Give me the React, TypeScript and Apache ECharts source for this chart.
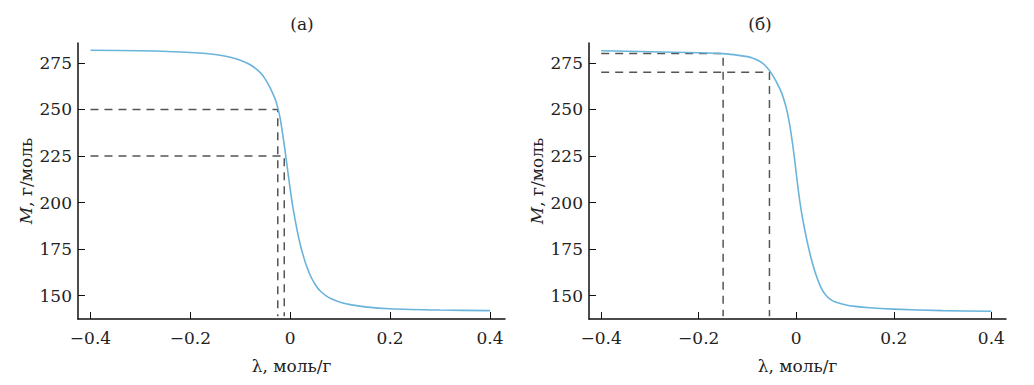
import React, { useEffect, useRef } from "react";
import * as echarts from "echarts";

// λ, моль/г  and  M, г/моль  — panel (а)
const lambdaA = [-0.4, -0.3, -0.2, -0.15, -0.12, -0.1, -0.08, -0.06, -0.05, -0.04, -0.03, -0.025, -0.02, -0.015, -0.01, -0.005, 0, 0.005, 0.01, 0.015, 0.02, 0.025, 0.03, 0.04, 0.05, 0.06, 0.07, 0.08, 0.1, 0.12, 0.15, 0.2, 0.3, 0.4];
const massA = [281.8, 281.5, 280.6, 279.5, 278.0, 276.5, 274.0, 269.8, 266.3, 261.5, 255.5, 251.0, 245.0, 236.5, 227.0, 217.0, 207.0, 198.0, 190.5, 183.5, 177.5, 172.5, 168.0, 161.0, 156.0, 152.5, 150.3, 148.6, 146.5, 145.2, 144.0, 143.0, 142.3, 142.0];

// panel (б)
const lambdaB = [-0.4, -0.3, -0.2, -0.15, -0.1, -0.09, -0.08, -0.07, -0.06, -0.05, -0.04, -0.03, -0.025, -0.02, -0.015, -0.01, -0.005, 0, 0.005, 0.01, 0.015, 0.02, 0.025, 0.03, 0.04, 0.05, 0.06, 0.07, 0.08, 0.1, 0.12, 0.15, 0.2, 0.3, 0.4];
const massB = [281.5, 281.0, 280.5, 280.0, 278.4, 277.7, 276.6, 275.0, 272.5, 269.0, 264.4, 258.9, 255.0, 250.3, 244.0, 236.0, 226.5, 215.5, 205.0, 196.0, 188.5, 182.0, 176.0, 170.5, 161.5, 154.8, 150.5, 148.0, 146.6, 145.2, 144.3, 143.5, 142.8, 142.0, 141.7];

// guide (dashed) levels: [lambda at curve, M]
const guidesA: [number, number][] = [[-0.025, 250], [-0.012, 225]];
const guidesB: [number, number][] = [[-0.15, 280], [-0.055, 270]];

const xTicks = [-0.4, -0.2, 0, 0.2, 0.4];
const yTicks = [150, 175, 200, 225, 250, 275];
const titles = ["(а)", "(б)"];

const X_MIN = -0.425;
const X_MAX = 0.43;
const Y_MIN = 137.5;
const Y_MAX = 285.7;

const FONT = "DejaVu Serif";
const FS = 17;

export default function App() {
  const ref = useRef<HTMLDivElement>(null);
  useEffect(() => {
    if (!ref.current) return;
    const chart = echarts.init(ref.current, undefined, { renderer: "svg" });
    const grids = [
      { left: 78, top: 43, width: 427, height: 276 },
      { left: 589, top: 43, width: 417, height: 276 },
    ];
    const mkX = (gi: number) => ({
      type: "value",
      gridIndex: gi,
      min: X_MIN,
      max: X_MAX,
      name: "λ, моль/г",
      nameLocation: "middle",
      nameGap: 38,
      nameTextStyle: { fontFamily: FONT, fontSize: FS, color: "#222" },
      axisLine: { show: true, onZero: false, lineStyle: { color: "#111", width: 1.5 } },
      axisTick: { show: true, inside: true, length: 7, customValues: xTicks, lineStyle: { color: "#111", width: 1 } },
      axisLabel: {
        customValues: xTicks,
        fontFamily: FONT,
        fontSize: FS,
        color: "#222",
        margin: 10,
        formatter: (v: number) => (v === 0 ? "0" : v < 0 ? "\u2212" + Math.abs(v).toFixed(1) : v.toFixed(1)),
      },
      splitLine: { show: false },
    });
    const mkY = (gi: number) => ({
      type: "value",
      gridIndex: gi,
      min: Y_MIN,
      max: Y_MAX,
      name: "{i|M}, г/моль",
      nameLocation: "middle",
      nameGap: 44,
      nameTextStyle: {
        fontFamily: FONT,
        fontSize: FS,
        color: "#222",
        rich: { i: { fontFamily: FONT, fontSize: FS, fontStyle: "italic", color: "#222" } },
      },
      axisLine: { show: true, onZero: false, lineStyle: { color: "#111", width: 1.5 } },
      axisTick: { show: true, inside: true, length: 7, customValues: yTicks, lineStyle: { color: "#111", width: 1 } },
      axisLabel: { customValues: yTicks, fontFamily: FONT, fontSize: FS, color: "#222", margin: 6 },
      splitLine: { show: false },
    });
    const curve = (xs: number[], ys: number[], gi: number) => ({
      type: "line",
      xAxisIndex: gi,
      yAxisIndex: gi,
      data: xs.map((x, i) => [x, ys[i]]),
      smooth: 0.25,
      showSymbol: false,
      lineStyle: { color: "#6ab4dc", width: 1.6 },
      z: 3,
    });
    const guideSeries = (g: [number, number][], gi: number) =>
      g.map(([lx, m]) => ({
        type: "line",
        xAxisIndex: gi,
        yAxisIndex: gi,
        data: [[-0.4, m], [lx, m], [lx, 139]],
        showSymbol: false,
        lineStyle: { color: "#555", width: 1.5, type: [8, 6] },
        z: 2,
      }));
    chart.setOption({
      animation: false,
      backgroundColor: "#fff",
      textStyle: { fontFamily: FONT },
      title: [
        { text: titles[0], left: 297, top: 10, textAlign: "center", textStyle: { fontFamily: FONT, fontSize: FS, fontWeight: "normal", color: "#222" } },
        { text: titles[1], left: 755, top: 10, textAlign: "center", textStyle: { fontFamily: FONT, fontSize: FS, fontWeight: "normal", color: "#222" } },
      ],
      grid: grids,
      xAxis: [mkX(0), mkX(1)],
      yAxis: [mkY(0), mkY(1)],
      series: [
        curve(lambdaA, massA, 0),
        curve(lambdaB, massB, 1),
        ...guideSeries(guidesA, 0),
        ...guideSeries(guidesB, 1),
      ],
    });
    return () => chart.dispose();
  }, []);
  return <div ref={ref} style={{ position: "fixed", left: 0, top: 0, width: 1034, height: 385 }} />;
}
